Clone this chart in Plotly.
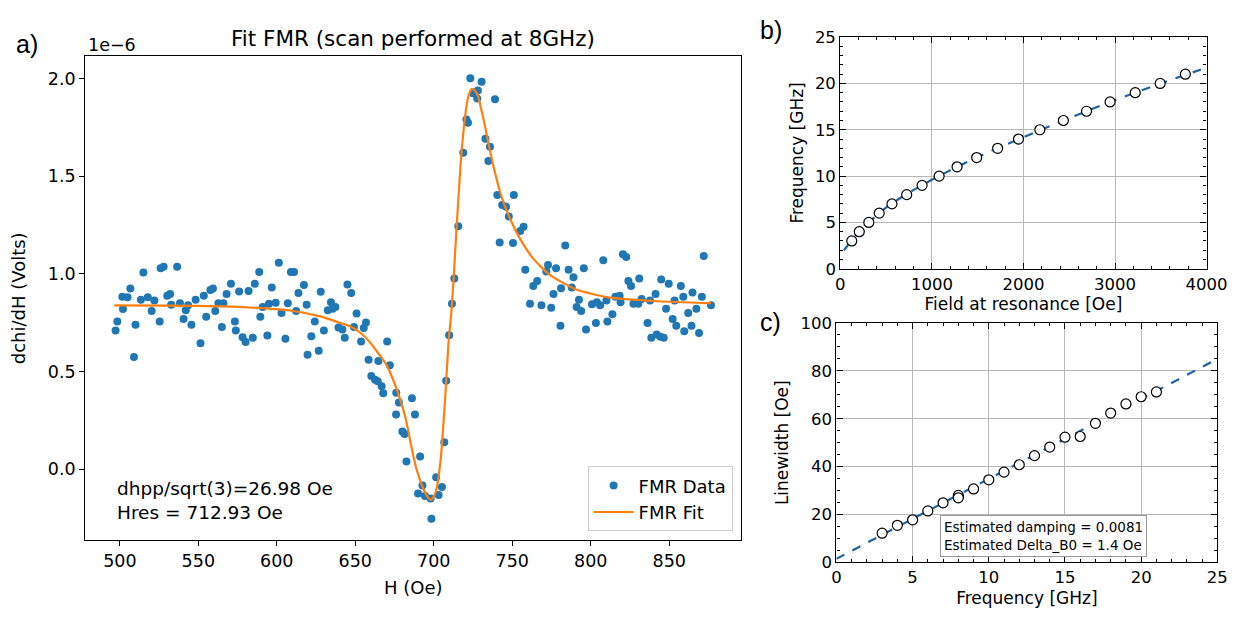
import plotly.graph_objects as go

W, H = 1255, 617

# ---------------- Panel a data (dchi/dH in units of 1e-6) ----------------
h_data = [497.3, 498.4, 501.6, 502.0, 504.9, 506.7, 509.0, 510.0, 513.4, 515.0,
          517.8, 520.3, 522.0, 525.4, 526.0, 527.9, 530.2, 532.0, 532.7, 536.5,
          538.3, 540.6, 542.0, 543.5, 545.6, 548.3, 551.4, 553.5, 555.0, 557.7,
          559.3, 560.8, 562.8, 565.0, 566.0, 568.0, 570.8, 573.3, 573.9, 576.0,
          578.2, 580.1, 582.0, 584.7, 586.0, 588.8, 589.5, 591.0, 594.0, 595.0,
          596.8, 599.3, 601.3, 603.0, 605.5, 607.0, 609.0, 611.0, 612.3, 613.8,
          617.3, 619.0, 619.6, 622.0, 624.2, 626.7, 628.0, 630.0, 632.5, 634.5,
          635.6, 637.3, 639.3, 641.8, 643.3, 645.0, 647.4, 649.1, 650.8, 653.7,
          655.4, 656.8, 658.5, 660.2, 662.6, 664.3, 664.7, 666.8, 667.8, 670.3,
          672.0, 676.0, 676.1, 677.8, 680.0, 681.4, 682.6, 686.1, 688.0, 690.0,
          691.3, 692.8, 694.4, 698.0, 698.5, 701.5, 703.1, 705.2, 706.7, 707.9,
          709.8, 711.6, 713.1, 715.6, 718.8, 720.8, 721.8, 723.3, 725.0, 726.0,
          727.7, 728.1, 730.5, 732.9, 734.8, 735.8, 739.0, 740.5, 742.0, 743.6,
          746.1, 747.8, 750.5, 751.0, 755.1, 757.2, 758.3, 761.3, 763.4, 765.9,
          768.6, 771.7, 772.8, 774.8, 776.3, 777.9, 780.7, 781.1, 783.8, 785.9,
          787.9, 789.0, 791.0, 792.5, 793.9, 795.6, 797.0, 800.8, 803.3, 803.9,
          806.0, 808.0, 810.0, 810.6, 813.8, 815.7, 818.4, 819.0, 820.5, 822.6,
          824.0, 825.7, 827.2, 830.3, 830.9, 832.4, 836.2, 837.8, 838.6, 841.3,
          842.0, 844.4, 844.9, 846.5, 848.0, 849.7, 852.2, 853.4, 854.5, 857.4,
          859.0, 859.6, 862.1, 864.2, 864.8, 867.3, 869.0, 870.8, 872.0, 876.6]
dchi_data = [0.71, 0.756, 0.883, 0.82, 0.88, 0.925, 0.574, 0.74, 0.867, 1.007,
             0.88, 0.81, 0.864, 0.756, 1.029, 1.037, 0.888, 0.897, 0.842, 1.037,
             0.85, 0.769, 0.814, 0.839, 0.74, 0.867, 0.645, 0.888, 0.781, 0.917,
             0.925, 0.81, 0.85, 0.728, 0.85, 0.897, 0.949, 0.756, 0.71, 0.91,
             0.676, 0.652, 0.913, 0.673, 0.949, 1.009, 0.781, 0.83, 0.685, 0.847,
             0.93, 0.852, 1.057, 0.80, 0.668, 0.85, 1.009, 1.009, 0.81, 0.902,
             0.943, 0.842, 0.586, 0.681, 0.756, 0.607, 0.908, 0.71, 0.814, 0.855,
             0.822, 0.83, 0.726, 0.715, 0.673, 0.946, 0.902, 0.728, 0.797, 0.654,
             0.723, 0.751, 0.561, 0.478, 0.458, 0.45, 0.554, 0.425, 0.389, 0.654,
             0.533, 0.281, 0.392, 0.342, 0.194, 0.18, 0.04, 0.364, 0.28, -0.124,
             0.065, -0.083, -0.137, -0.149, -0.253, -0.041, -0.132, -0.091, 0.139, 0.453,
             0.686, 0.847, 0.976, 1.244, 1.62, 1.79, 1.773, 2.001, 1.925, 1.93,
             1.897, 1.939, 1.983, 1.691, 1.578, 1.65, 1.894, 1.404, 1.161, 1.352,
             1.343, 1.294, 1.158, 1.404, 1.219, 1.241, 1.021, 0.847, 0.938, 0.963,
             0.839, 1.012, 1.046, 0.827, 0.897, 1.029, 0.734, 0.926, 1.145, 1.021,
             0.93, 0.983, 0.83, 0.867, 0.81, 1.029, 0.715, 0.844, 0.748, 0.855,
             0.839, 1.07, 0.864, 0.756, 0.794, 0.883, 0.888, 0.855, 1.10, 1.087,
             0.963, 0.938, 0.847, 0.847, 0.976, 0.872, 0.748, 0.864, 0.673, 0.897,
             0.69, 0.678, 0.971, 0.673, 0.822, 0.949, 0.769, 0.864, 0.734, 0.938,
             0.883, 0.706, 0.80, 0.734, 0.905, 0.822, 0.698, 0.883, 1.092, 0.839]

h_fit = [496.4, 530, 566, 590, 607.5, 628.3, 640, 647, 653, 659.5, 665, 670, 675,
         678.2, 682.4, 685.5, 689, 692.8, 696, 698, 700, 701.5, 704.2, 707.3, 709.4,
         711.5, 714.6, 717.7, 720.8, 722.5, 724.3, 726, 728, 730, 732.2, 736.4,
         742.6, 748.9, 755.1, 763.4, 773.8, 790.4, 811.2, 842.3, 876.6]
dchi_fit = [0.839, 0.838, 0.834, 0.825, 0.814, 0.781, 0.75, 0.731, 0.70, 0.649, 0.59,
            0.533, 0.44, 0.367, 0.25, 0.125, 0.0, -0.088, -0.14, -0.157, -0.14, -0.11,
            0.036, 0.367, 0.649, 0.83, 1.244, 1.624, 1.856, 1.92, 1.947, 1.94, 1.914,
            1.85, 1.773, 1.608, 1.409, 1.277, 1.178, 1.078, 0.996, 0.921, 0.88, 0.86, 0.85]

x_ticks_a = [500, 550, 600, 650, 700, 750, 800, 850]
y_ticks_a = [0.0, 0.5, 1.0, 1.5, 2.0]
y_ticktext_a = ["0.0", "0.5", "1.0", "1.5", "2.0"]

# ---------------- Panel b data ----------------
freq_b = [3, 4, 5, 6, 7, 8, 9, 10, 11, 12, 13, 14, 15, 16, 17, 18, 19, 20, 21]
hres_b = [125, 207, 311, 425, 564, 725, 893, 1079, 1275, 1489, 1718, 1946, 2179,
          2436, 2689, 2946, 3221, 3493, 3768]
hfit_b = [40, 100, 200, 300, 500, 750, 1000, 1500, 2000, 2500, 3000, 3500, 4000]
ffit_b = [2.0, 2.75, 3.9, 4.9, 6.6, 8.2, 9.6, 12.05, 14.2, 16.25, 18.2, 20.0, 21.7]

# ---------------- Panel c data ----------------
freq_c = [3, 4, 5, 6, 7, 8, 8, 9, 10, 11, 12, 13, 14, 15, 16, 17, 18, 19, 20, 21]
lw_c = [12.2, 15.5, 17.8, 21.5, 24.9, 28.0, 27.0, 30.7, 34.5, 37.7, 40.8, 44.6,
        48.2, 52.3, 52.6, 58.1, 62.4, 66.2, 69.2, 71.2]
ffit_c = [0, 25]
lwfit_c = [1.5, 85.0]

FONT = "DejaVu Sans"
BLUE = "#1f77b4"
ORANGE = "#ff7f0e"
DASH = "#1f62a8"

def px(x):
    return x / W

def py(y):
    return 1 - y / H

fig = go.Figure()

# Panel a
fig.add_trace(go.Scatter(x=h_data, y=dchi_data, mode="markers", name="FMR Data",
                         marker=dict(color=BLUE, size=8, line=dict(width=0)),
                         xaxis="x", yaxis="y"))
fig.add_trace(go.Scatter(x=h_fit, y=dchi_fit, mode="lines", name="FMR Fit",
                         line=dict(color=ORANGE, width=2.2, shape="spline", smoothing=0.6),
                         xaxis="x", yaxis="y"))

# Panel b
fig.add_trace(go.Scatter(x=hfit_b, y=ffit_b, mode="lines", showlegend=False,
                         line=dict(color=DASH, width=2.2, dash="dash", shape="spline"),
                         xaxis="x2", yaxis="y2"))
fig.add_trace(go.Scatter(x=hres_b, y=freq_b, mode="markers", showlegend=False,
                         marker=dict(color="white", size=10, line=dict(color="black", width=1.2)),
                         xaxis="x2", yaxis="y2"))

# Panel c
fig.add_trace(go.Scatter(x=ffit_c, y=lwfit_c, mode="lines", showlegend=False,
                         line=dict(color=DASH, width=2.2, dash="dash"),
                         xaxis="x3", yaxis="y3"))
fig.add_trace(go.Scatter(x=freq_c, y=lw_c, mode="markers", showlegend=False,
                         marker=dict(color="white", size=10, line=dict(color="black", width=1.2)),
                         xaxis="x3", yaxis="y3"))

tickfont_a = dict(family=FONT, size=17.5, color="black")
tickfont_bc = dict(family=FONT, size=16.5, color="black")
label_a = dict(family=FONT, size=18, color="black")
label_bc = dict(family=FONT, size=17, color="black")

grid = "#b8b8b8"

fig.update_layout(
    width=W, height=H,
    margin=dict(l=0, r=0, t=0, b=0),
    paper_bgcolor="white", plot_bgcolor="white",
    font=dict(family=FONT, color="black"),
    xaxis=dict(domain=[px(82), px(752)], range=[478, 896], anchor="y",
               tickvals=x_ticks_a, ticks="outside", ticklen=5, tickcolor="black",
               showline=True, linecolor="black", linewidth=1.3, mirror=True,
               showgrid=False, zeroline=False, tickfont=tickfont_a,
               title=dict(text="H (Oe)", font=label_a, standoff=11)),
    yaxis=dict(domain=[py(548), py(49)], range=[-0.3625, 2.1125], anchor="x",
               tickvals=y_ticks_a, ticktext=y_ticktext_a,
               ticks="outside", ticklen=5, tickcolor="black",
               showline=True, linecolor="black", linewidth=1.3, mirror=True,
               showgrid=False, zeroline=False, tickfont=tickfont_a,
               title=dict(text="dchi/dH (Volts)", font=label_a, standoff=17)),
    xaxis2=dict(domain=[px(853), px(1227)], range=[0, 4000], anchor="y2",
                dtick=1000, ticks="inside", ticklen=6, tickcolor="black",
                minor=dict(ticks="inside", ticklen=3, dtick=200, tickcolor="black", showgrid=False),
                showline=True, linecolor="black", linewidth=1.3, mirror="allticks",
                showgrid=True, gridcolor=grid, gridwidth=1, zeroline=False,
                tickfont=tickfont_bc,
                title=dict(text="Field at resonance [Oe]", font=label_bc, standoff=4)),
    yaxis2=dict(domain=[py(268), py(29)], range=[0, 25], anchor="x2",
                dtick=5, ticks="inside", ticklen=6, tickcolor="black",
                minor=dict(ticks="inside", ticklen=3, dtick=1, tickcolor="black", showgrid=False),
                showline=True, linecolor="black", linewidth=1.3, mirror="allticks",
                showgrid=True, gridcolor=grid, gridwidth=1, zeroline=False,
                tickfont=tickfont_bc,
                title=dict(text="Frequency [GHz]", font=label_bc, standoff=6)),
    xaxis3=dict(domain=[px(849), px(1238)], range=[0, 25], anchor="y3",
                dtick=5, ticks="inside", ticklen=6, tickcolor="black",
                minor=dict(ticks="inside", ticklen=3, dtick=1, tickcolor="black", showgrid=False),
                showline=True, linecolor="black", linewidth=1.3, mirror="allticks",
                showgrid=True, gridcolor=grid, gridwidth=1, zeroline=False,
                tickfont=tickfont_bc,
                title=dict(text="Frequency [GHz]", font=label_bc, standoff=5)),
    yaxis3=dict(domain=[py(571), py(324)], range=[0, 100], anchor="x3",
                dtick=20, ticks="inside", ticklen=6, tickcolor="black",
                minor=dict(ticks="inside", ticklen=3, dtick=5, tickcolor="black", showgrid=False),
                showline=True, linecolor="black", linewidth=1.3, mirror="allticks",
                showgrid=True, gridcolor=grid, gridwidth=1, zeroline=False,
                tickfont=tickfont_bc,
                title=dict(text="Linewidth [Oe]", font=label_bc, standoff=7)),
    legend=dict(x=px(743), y=py(539), xanchor="right", yanchor="bottom",
                bgcolor="rgba(255,255,255,0.8)", bordercolor="#cccccc", borderwidth=1,
                font=dict(family=FONT, size=18), itemwidth=40, tracegroupgap=2),
    showlegend=True,
)

annotations = [
    dict(text="Fit FMR (scan performed at 8GHz)", x=px(417), y=py(30), xref="paper", yref="paper",
         xanchor="center", yanchor="middle", showarrow=False, font=dict(family=FONT, size=21.5)),
    dict(text="1e\u22126", x=px(83), y=py(37), xref="paper", yref="paper",
         xanchor="left", yanchor="middle", showarrow=False, font=dict(family=FONT, size=17.5)),
    dict(text="dhpp/sqrt(3)=26.98 Oe<br>Hres = 712.93 Oe", x=px(112), y=py(507), xref="paper", yref="paper",
         xanchor="left", yanchor="middle", align="left", showarrow=False, font=dict(family=FONT, size=18.5)),
    dict(text="Estimated damping = 0.0081<br>Estimated Delta_B0 = 1.4 Oe", x=px(1060), y=py(544),
         xref="paper", yref="paper", xanchor="center", yanchor="middle", align="left", showarrow=False,
         font=dict(family=FONT, size=13.5), bordercolor="#999999", borderwidth=1, borderpad=3,
         bgcolor="white"),
    dict(text="a)", x=px(9), y=py(36), xref="paper", yref="paper", xanchor="left", yanchor="middle",
         showarrow=False, font=dict(family="Liberation Sans", size=25)),
    dict(text="b)", x=px(769), y=py(22), xref="paper", yref="paper", xanchor="left", yanchor="middle",
         showarrow=False, font=dict(family="Liberation Sans", size=25)),
    dict(text="c)", x=px(769), y=py(323), xref="paper", yref="paper", xanchor="left", yanchor="middle",
         showarrow=False, font=dict(family="Liberation Sans", size=25)),
]
fig.update_layout(annotations=annotations)

fig.write_html("out.html")
